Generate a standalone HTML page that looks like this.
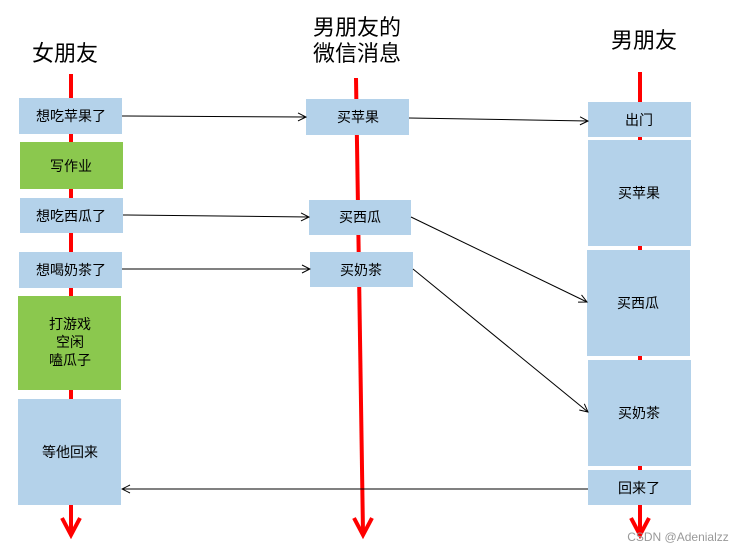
<!DOCTYPE html>
<html><head><meta charset="utf-8"><style>
body{margin:0;background:#fff;}
svg text{font-family:"Liberation Sans","Noto Sans CJK SC",sans-serif;}
</style></head><body>
<svg width="737" height="551" viewBox="0 0 737 551" xmlns="http://www.w3.org/2000/svg">
<defs><marker id="a" markerWidth="10" markerHeight="10" refX="9" refY="5" orient="auto" markerUnits="userSpaceOnUse"><path d="M1,1 L9,5 L1,9" fill="none" stroke="#000" stroke-width="1"/></marker></defs>
<g stroke="#f00" stroke-width="4" fill="none">
<line x1="71" y1="74" x2="71" y2="533"/><path d="M62,518 L71,535 L80,518"/>
<line x1="356" y1="78" x2="363" y2="533"/><path d="M354,518 L363,535 L372,518"/>
<line x1="640" y1="72" x2="640" y2="533"/><path d="M631,518 L640,535 L649,518"/>
</g>
<g fill="#b4d2ea">
<rect x="19" y="98" width="103" height="36"/>
<rect x="20" y="198" width="103" height="35"/>
<rect x="19" y="252" width="103" height="36"/>
<rect x="18" y="399" width="103" height="106"/>
<rect x="306" y="99" width="103" height="36"/>
<rect x="309" y="200" width="102" height="35"/>
<rect x="310" y="252" width="103" height="35"/>
<rect x="588" y="102" width="103" height="35"/>
<rect x="588" y="140" width="103" height="106"/>
<rect x="587" y="250" width="103" height="106"/>
<rect x="588" y="360" width="103" height="106"/>
<rect x="588" y="470" width="103" height="35"/>
</g>
<g fill="#8bc84e">
<rect x="20" y="142" width="103" height="47"/>
<rect x="18" y="296" width="103" height="94"/>
</g>
<g stroke="#000" stroke-width="1" marker-end="url(#a)">
<line x1="122" y1="116" x2="306" y2="117"/>
<line x1="409" y1="118" x2="588" y2="121"/>
<line x1="123" y1="215" x2="309" y2="217"/>
<line x1="411" y1="217" x2="587" y2="302"/>
<line x1="122" y1="269" x2="310" y2="269"/>
<line x1="413" y1="269" x2="588" y2="412"/>
<line x1="588" y1="489" x2="122" y2="489"/>
</g>
<g font-size="14" text-anchor="middle" fill="#000">
<text x="71" y="121">想吃苹果了</text>
<text x="71" y="171">写作业</text>
<text x="71" y="221">想吃西瓜了</text>
<text x="71" y="275">想喝奶茶了</text>
<text x="70" y="329">打游戏</text>
<text x="70" y="347">空闲</text>
<text x="70" y="365">嗑瓜子</text>
<text x="70" y="457">等他回来</text>
<text x="358" y="122">买苹果</text>
<text x="360" y="222">买西瓜</text>
<text x="361" y="275">买奶茶</text>
<text x="639" y="125">出门</text>
<text x="639" y="198">买苹果</text>
<text x="638" y="308">买西瓜</text>
<text x="639" y="418">买奶茶</text>
<text x="639" y="493">回来了</text>
</g>
<g font-size="22" text-anchor="middle" fill="#000">
<text x="65" y="61">女朋友</text>
<text x="357" y="35">男朋友的</text>
<text x="357" y="61">微信消息</text>
<text x="644" y="48">男朋友</text>
</g>
<text x="678" y="541" font-size="12" fill="#999" text-anchor="middle">CSDN @Adenialzz</text>
</svg>
</body></html>
